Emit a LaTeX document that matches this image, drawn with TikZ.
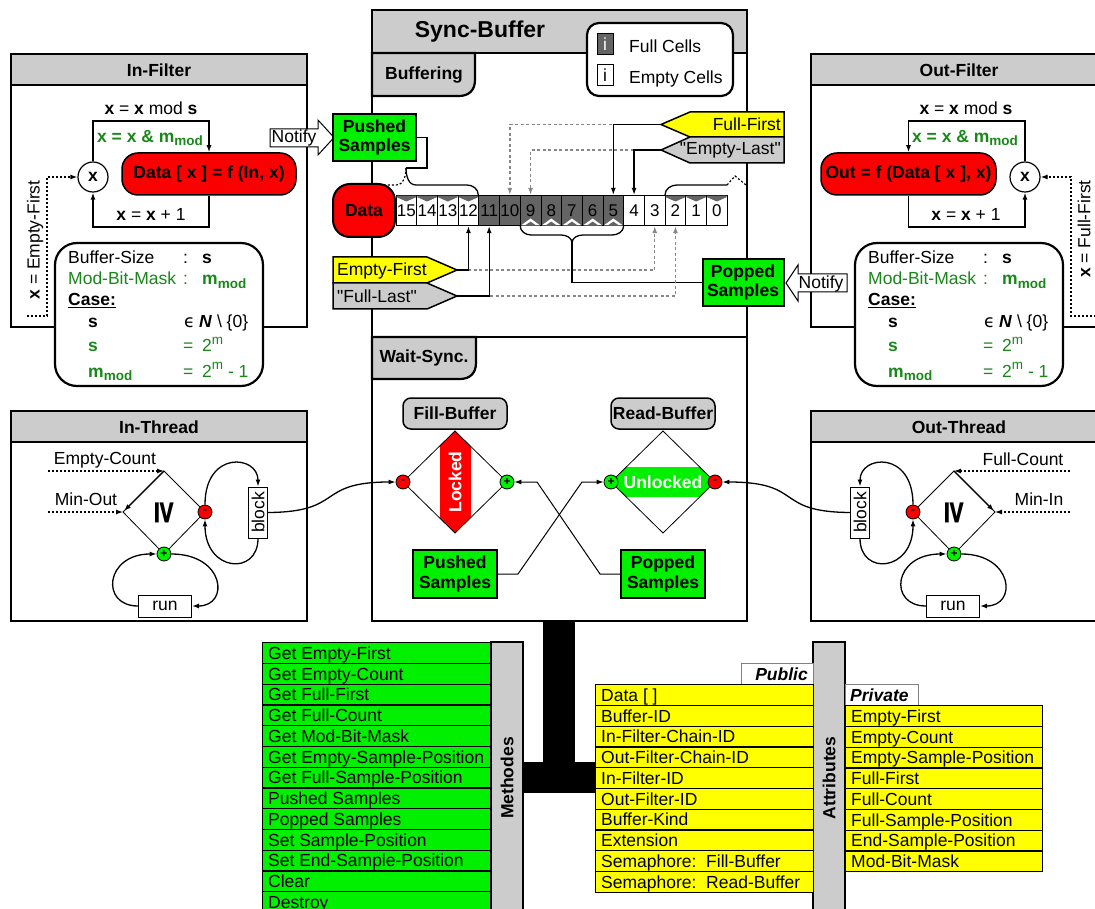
\documentclass[tikz,border=0pt]{standalone}
\usepackage{fontspec}
\setmainfont{Liberation Sans}
\newfontfamily\dejavu{DejaVu Sans}
\newfontfamily\qfont{Liberation Sans}
\usetikzlibrary{arrows.meta,calc}
\definecolor{brgreen}{RGB}{0,240,0}
\definecolor{dgreen}{RGB}{25,135,25}
\definecolor{myred}{RGB}{250,0,0}
\definecolor{myyellow}{RGB}{255,255,0}
\definecolor{mygray}{RGB}{204,204,204}
\definecolor{cellgray}{RGB}{100,100,100}
\definecolor{dashgray}{RGB}{135,135,135}
\newcommand\mysub[1]{\raisebox{-0.4ex}{\fontsize{13.5}{14}\selectfont #1}}
\newcommand\mysup[1]{\raisebox{0.8ex}{\fontsize{13.5}{14}\selectfont #1}}
\newcommand\mmod{\textbf{m\mysub{mod}}}
\newcommand\sq{{\qfont\char34}}
\newcommand\casecontent{%
  \node[draw,line width=2.2pt,fill=white,rounded corners=22pt,minimum width=208pt,minimum height=143pt] (case) at (159,314.5) {};
  \node[tx] (k1a) at (68,264) {Buffer-Size};
  \node[tx] (k1b) at (183,264) {:};
  \node[tx] (k1c) at (202,264) {\textbf{s}};
  \node[tx,text=dgreen] (k2a) at (68,285) {Mod-Bit-Mask};
  \node[tx,text=dgreen] (k2b) at (183,285) {:};
  \node[tx,text=dgreen] (k2c) at (202,285) {\mmod};
  \node[tx] (k3a) at (68,306) {\textbf{\underline{Case:}}};
  \node[tx] (k4a) at (88,327) {\textbf{s}};
  \node[tx] (k4b) at (184,327) {\dejavu ϵ};
  \node[tx] (k4c) at (199,327) {\textbf{\textit{N}} \textbackslash\ \{0\}};
  \node[tx,text=dgreen] (k5a) at (88,352) {\textbf{s}};
  \node[tx,text=dgreen] (k5b) at (183,352) {=};
  \node[tx,text=dgreen] (k5c) at (202,352) {2\mysup{m}};
  \node[tx,text=dgreen] (k6a) at (88,377) {\mmod};
  \node[tx,text=dgreen] (k6b) at (183,377) {=};
  \node[tx,text=dgreen] (k6c) at (202,377) {2\mysup{m} - 1};
}
\begin{document}
\begin{tikzpicture}[x=1pt,y=-1pt,
  font=\fontsize{17.5}{20}\selectfont,
  frm/.style={draw,line width=2.2pt},
  ln/.style={line width=1.3pt},
  thn/.style={line width=0.8pt},
  arr/.style={-{Latex[length=7pt,width=5pt]}},
  gdash/.style={draw=dashgray,line width=1.3pt,dash pattern=on 3pt off 2.5pt,-{Latex[length=7pt,width=5pt]}},
  dotl/.style={line width=1.2pt,dash pattern=on 2pt off 2pt},
  bold/.style={font=\fontsize{17.5}{20}\selectfont\bfseries},
  tx/.style={anchor=base west,inner sep=0pt},
  sgreen/.style={draw,line width=2pt,fill=brgreen,font=\fontsize{17.5}{19.5}\selectfont\bfseries,align=center,inner sep=0pt},
  pm/.style={circle,draw,line width=0.8pt,minimum size=14pt,inner sep=0pt,font=\fontsize{12}{12}\selectfont\bfseries},
  cell/.style={draw,line width=0.8pt,minimum width=20.7pt,minimum height=30.5pt,inner sep=0pt,font=\fontsize{17}{17}\selectfont},
  rowbox/.style={draw,line width=1.2pt,minimum height=20.77pt,inner sep=0pt,anchor=north west},
  rowtx/.style={anchor=base west,inner sep=0pt},
  tbox/.style={draw,line width=1pt,fill=white,inner sep=0pt},
]
\useasboundingbox (0,0) rectangle (1095,909);
\clip (0,0) rectangle (1095,909);
% ---------------- frames
\draw[frm,fill=white] (11,54) rectangle (307,327);
\draw[frm,fill=mygray] (11,54) rectangle (307,85);
\draw[frm,fill=white] (811,54) rectangle (1107,327);
\draw[frm,fill=mygray] (811,54) rectangle (1107,85);
\draw[frm,fill=white] (11,411) rectangle (307,621);
\draw[frm,fill=mygray] (11,411) rectangle (307,442);
\draw[frm,fill=white] (811,411) rectangle (1107,621);
\draw[frm,fill=mygray] (811,411) rectangle (1107,442);
\draw[frm,fill=white] (372,10) rectangle (747,621);
\draw[frm,fill=mygray] (372,10) rectangle (747,53);
\draw[frm] (372,337) -- (747,337);
\draw[frm,fill=mygray] (372,53) -- (475,53) -- (475,80) .. controls (475,90) and (469,96) .. (459,96) -- (372,96) -- cycle;
\draw[frm,fill=mygray] (372,337) -- (476,337) -- (476,363) .. controls (476,373) and (470,379) .. (460,379) -- (372,379) -- cycle;
\node[bold] (tif) at (159,70) {In-Filter};
\node[bold] (tof) at (959,70) {Out-Filter};
\node[bold] (tit) at (159,427) {In-Thread};
\node[bold] (tot) at (959,427) {Out-Thread};
\node[font=\fontsize{23}{26}\selectfont\bfseries] (tsb) at (480,32) {Sync-Buffer};
\node[bold] (tbf) at (424,75) {Buffering};
\node[bold] (tws) at (424,358) {Wait-Sync.};
% ---------------- legend
\node[draw,line width=2.2pt,rounded corners=12pt,fill=white,minimum width=146pt,minimum height=73pt] (leg) at (660,59.5) {};
\node[draw,line width=1pt,fill=cellgray,minimum width=16pt,minimum height=21pt,inner sep=0pt,text=white] (legf) at (605,44) {i};
\node[tx] (legft) at (629,52.5) {Full Cells};
\node[draw,line width=1pt,fill=white,minimum width=16pt,minimum height=21pt,inner sep=0pt] (lege) at (605,75) {i};
\node[tx] (leget) at (629,84) {Empty Cells};
% ---------------- In-Filter
\node (imod) at (151,108) {\textbf{x} = \textbf{x} mod \textbf{s}};
\node[circle,draw,line width=1.2pt,fill=white,minimum size=30pt,inner sep=0pt,bold] (ix) at (93,177) {x};
\node[draw,line width=1.5pt,fill=myred,rounded corners=16pt,minimum width=174pt,minimum height=42pt,inner xsep=2pt,bold] (idata) at (209,174) {Data [ x ] = f (In, x)};
\draw[ln,arr] (ix.north) -- (93,121) -| (idata.north);
\node[text=dgreen] (iand) at (150,138) {\textbf{x = x \& m\mysub{mod}}};
\draw[ln,arr] (idata.south) -- (209,227) -| (ix.south);
\node (iinc) at (151,214) {\textbf{x} = \textbf{x} + 1};
\coordinate (iefs) at (27,316);
\draw[dotl,arr] (iefs) -- (47,316) -- (47,177) -- (ix.west);
\node[rotate=90] (iefl) at (35,240) {\textbf{x} = Empty-First};
\casecontent
% ---------------- Out-Filter
\node (omod) at (966,108) {\textbf{x} = \textbf{x} mod \textbf{s}};
\node[circle,draw,line width=1.2pt,fill=white,minimum size=30pt,inner sep=0pt,bold] (ox) at (1025,177) {x};
\node[draw,line width=1.5pt,fill=myred,rounded corners=16pt,minimum width=175pt,minimum height=42pt,inner xsep=2pt,bold] (odata) at (908.5,174) {Out = f (Data [ x ], x)};
\draw[ln,arr] (ox.north) -- (1025,121) -| (odata.north);
\node[text=dgreen] (oand) at (965,138) {\textbf{x = x \& m\mysub{mod}}};
\draw[ln,arr] (odata.south) -- (908.5,227) -| (ox.south);
\node (oinc) at (966,214) {\textbf{x} = \textbf{x} + 1};
\coordinate (offs) at (1100,316);
\draw[dotl,arr] (offs) -- (1071,316) -- (1071,177) -- (ox.east);
\node[rotate=90] (offl) at (1084,229) {\textbf{x} = Full-First};
\begin{scope}[xshift=800pt,name prefix=r]
\casecontent
\end{scope}
% ---------------- Notify arrows
\draw[line width=1pt,fill=white] (270,129) -- (318,129) -- (318,120) -- (334,137.5) -- (318,155) -- (318,147) -- (270,147) -- cycle;
\node[inner sep=0pt] (nfl) at (294,138) {Notify};
\draw[line width=1pt,fill=white] (847,274) -- (798,274) -- (798,265) -- (786,283) -- (798,301) -- (798,292) -- (847,292) -- cycle;
\node[inner sep=0pt] (nfr) at (821,283.5) {Notify};
% ---------------- Buffering
\node[sgreen,minimum width=83pt,minimum height=47pt] (pst) at (374.5,137.5) {Pushed\\Samples};
\node[sgreen,minimum width=81pt,minimum height=47pt] (ppt) at (743,282.5) {Popped\\Samples};
\node[draw,line width=2pt,fill=myred,rounded corners=17pt,minimum width=62pt,minimum height=53pt,bold] (dat) at (364,210.5) {Data};
\foreach \i in {0,...,15}{
  \pgfmathtruncatemacro\n{15-\i}
  \pgfmathsetmacro\cx{406.35+20.7*\i}
  \ifnum\n>4 \ifnum\n<12 \def\cf{cellgray}\else\def\cf{white}\fi\else\def\cf{white}\fi
  \node[cell,fill=\cf] (c\n) at (\cx,210.5) {\n};
}
\foreach \n in {15,14,13,12,2,1,0}{
  \pgfmathsetmacro\xa{396+20.7*(15-\n)}
  \fill[cellgray] (\xa+0.6,195.6) -- (\xa+20.1,195.6) -- (\xa+20.1,197.2) -- (\xa+10.35,201.5) -- (\xa+0.6,197.2) -- cycle;
}
\foreach \n in {9,...,5}{
  \pgfmathsetmacro\xa{396+20.7*(15-\n)}
  \fill[white] (\xa+1,225.3) -- (\xa+10.35,218.5) -- (\xa+19.7,225.3) -- cycle;
  \fill[cellgray] (\xa+5,225.3) -- (\xa+10.35,221.6) -- (\xa+15.7,225.3) -- cycle;
}
% pushed brace
\draw[ln] (pst.east) -- (427,137.5) |- (406,168);
\draw[ln] (406,168) to[out=-90,in=180] (416,185) -- (467,185) to[out=0,in=90] (478.3,195);
\draw[dotl] (406,168) to[out=-90,in=0] (396,185) -- (383,185);
\draw[ln] (665,195) to[out=90,in=180] (677,185) -- (727,185);
\draw[dotl] (727,185) -- (735,176) -- (746,185);
% popped brace
\draw[ln] (520.2,225.7) to[out=-90,in=180] (531,235) -- (561,235) to[out=0,in=90] (572,243);
\draw[ln] (572,243) to[out=90,in=180] (583,235) -- (612,235) to[out=0,in=-90] (623.7,225.7);
\draw[ln] (572,243) |- (ppt.west);
% tags
\draw[line width=1.5pt,fill=myyellow] (661,124.5) -- (690,112) -- (784,112) -- (784,137) -- (690,137) -- cycle;
\node[anchor=east,inner sep=0pt] (fft) at (781,124.5) {Full-First};
\coordinate (ffTip) at (661,124.5);
\draw[line width=1.5pt,fill=mygray] (661,150) -- (690,137) -- (784,137) -- (784,163) -- (690,163) -- cycle;
\node[anchor=east,inner sep=0pt] (elt) at (781,150.5) {\sq Empty-Last\sq};
\coordinate (elTip) at (661,150);
\draw[line width=1.5pt,fill=myyellow] (333,257) -- (427,257) -- (457,270) -- (427,283) -- (333,283) -- cycle;
\node[anchor=west,inner sep=0pt] (eft) at (337,270.5) {Empty-First};
\coordinate (efTip) at (457,270);
\draw[line width=1.5pt,fill=mygray] (333,283) -- (427,283) -- (457,296) -- (427,309) -- (333,309) -- cycle;
\node[anchor=west,inner sep=0pt] (flt) at (337,296.5) {\sq Full-Last\sq};
\coordinate (flTip) at (457,296);
\draw[gdash] (ffTip) -| (c10.north);
\draw[gdash] (elTip) -| (c9.north);
\draw[gdash] (efTip) -| (c3.south);
\draw[gdash] (flTip) -| (c2.south);
\draw[ln,arr] (ffTip) -| (c5.north);
\draw[ln,arr] (elTip) -| (c4.north);
\draw[ln,arr] (efTip) -| (c12.south);
\draw[ln,arr] (flTip) -| (c11.south);
% ---------------- Wait-Sync
\node[draw,line width=1.5pt,rounded corners=8pt,fill=mygray,minimum width=104pt,minimum height=31pt,inner sep=0pt,bold] (fbl) at (455,413.5) {Fill-Buffer};
\node[draw,line width=1.5pt,rounded corners=8pt,fill=mygray,minimum width=104pt,minimum height=31pt,inner sep=0pt,bold] (rbl) at (663,413.5) {Read-Buffer};
\begin{scope}
\clip (455,431) -- (507,482) -- (455,533) -- (403,482) -- cycle;
\fill[myred] (439.5,420) rectangle (470.5,545);
\end{scope}
\draw[thn] (455,431) -- (507,482) -- (455,533) -- (403,482) -- cycle;
\node[rotate=90,text=white,bold] (lock) at (455,482) {Locked};
\begin{scope}
\clip (663,431) -- (715,482) -- (663,533) -- (611,482) -- cycle;
\fill[brgreen] (600,467) rectangle (726,497);
\end{scope}
\draw[thn] (663,431) -- (715,482) -- (663,533) -- (611,482) -- cycle;
\node[text=white,bold] (unl) at (663,482) {Unlocked};
\node[pm,fill=myred] (fbm) at (403,482) {-};
\node[pm,fill=brgreen] (fbp) at (507,482) {+};
\node[pm,fill=brgreen] (rbp) at (611,482) {+};
\node[pm,fill=myred] (rbm) at (715,482) {-};
\node[sgreen,minimum width=84pt,minimum height=48pt] (psb) at (455,574) {Pushed\\Samples};
\node[sgreen,minimum width=84pt,minimum height=48pt] (ppb) at (663,574) {Popped\\Samples};
\draw[line width=1pt,arr] (psb.east) -- (518,574) -- (582,482) -- (rbp.west);
\draw[line width=1pt,arr] (ppb.west) -- (600,574) -- (537,482) -- (fbp.east);
% ---------------- In-Thread
\draw[thn] (164,471) -- (205,512) -- (164,554) -- (123,512) -- cycle;
\node[rotate=-90,inner sep=0pt,font=\dejavu\bfseries\fontsize{32}{32}\selectfont] (ige) at (165,513) {≥};
\node (iec) at (105,460) {Empty-Count};
\node (imo) at (86,499) {Min-Out};
\coordinate (iecs) at (48,471);
\coordinate (imos) at (48,512);
\draw[dotl,arr] (iecs) -- (164,471);
\draw[dotl,arr] (imos) -- (123,512);
\draw[line width=1.3pt,arr] (164,471) -- (124,511);
\node[pm,fill=myred] (irm) at (205,512) {-};
\node[pm,fill=brgreen] (igp) at (164,554) {+};
\node[tbox,minimum width=19pt,minimum height=51pt] (iblk) at (258,512.5) {\rotatebox{90}{block}};
\node[tbox,minimum width=53pt,minimum height=22pt] (irun) at (165,606) {run};
\draw[ln,arr] (irm.north) .. controls (205,450) and (258,455) .. (iblk.north);
\draw[ln,arr] (iblk.south) .. controls (258,576) and (205,572) .. (irm.south);
\draw[ln,arr] (irun.west) .. controls (100,606) and (105,554) .. (igp.west);
\draw[ln,arr] (igp.east) .. controls (225,554) and (230,606) .. (irun.east);
\draw[ln,arr] (iblk.east) .. controls (345,512) and (315,482) .. (fbm.west);
% ---------------- Out-Thread
\draw[thn] (954,471) -- (995,512) -- (954,554) -- (913,512) -- cycle;
\node[rotate=-90,inner sep=0pt,font=\dejavu\bfseries\fontsize{32}{32}\selectfont] (oge) at (955,513) {≥};
\node (ofc) at (1023,459) {Full-Count};
\node (omi) at (1039,499) {Min-In};
\coordinate (ofcs) at (1070,471);
\coordinate (omis) at (1070,512);
\draw[dotl,arr] (ofcs) -- (954,471);
\draw[dotl,arr] (omis) -- (995,512);
\draw[line width=1.3pt,arr] (954,471) -- (994,511);
\node[pm,fill=myred] (orm) at (913,512) {-};
\node[pm,fill=brgreen] (ogp) at (954,554) {+};
\node[tbox,minimum width=19pt,minimum height=51pt] (oblk) at (860,512.5) {\rotatebox{90}{block}};
\node[tbox,minimum width=53pt,minimum height=22pt] (orun) at (953,606) {run};
\draw[ln,arr] (orm.north) .. controls (913,450) and (860,455) .. (oblk.north);
\draw[ln,arr] (oblk.south) .. controls (860,576) and (913,572) .. (orm.south);
\draw[ln,arr] (orun.west) .. controls (888,606) and (893,554) .. (ogp.west);
\draw[ln,arr] (ogp.east) .. controls (1013,554) and (1018,606) .. (orun.east);
\draw[ln,arr] (oblk.west) .. controls (773,512) and (805,482) .. (rbm.east);
% ---------------- bottom: connector T
\fill (543,621) rectangle (575,762);
\fill (523,762) rectangle (595,793);
% Methodes
\foreach \txt [count=\i from 0] in {Get Empty-First,Get Empty-Count,Get Full-First,Get Full-Count,Get Mod-Bit-Mask,Get Empty-Sample-Position,Get Full-Sample-Position,Pushed Samples,Popped Samples,Set Sample-Position,Set End-Sample-Position,Clear,Destroy}{
  \node[rowbox,fill=brgreen,minimum width=229pt] (m\i) at (262,{642+20.77*\i}) {};
  \node[rowtx] (mt\i) at ([xshift=6pt,yshift=-6.3pt]m\i.west) {\txt};
}
\draw[frm,fill=mygray] (491,642) rectangle (523,930);
\node[rotate=90,bold] (meth) at (507,778) {Methodes};
% Attributes
\draw[frm,fill=mygray] (813,642) rectangle (845,930);
\node[rotate=90,bold] (attr) at (829,778) {Attributes};
\node[draw=gray,line width=1pt,fill=white,minimum width=72pt,minimum height=21pt,inner sep=0pt] (pubtab) at (777,673.5) {};
\node[anchor=base east,inner sep=0pt,font=\fontsize{17.5}{20}\selectfont\bfseries\itshape] (pub) at (808,680) {Public};
\node[draw=gray,line width=1pt,fill=white,minimum width=73pt,minimum height=21pt,inner sep=0pt] (privtab) at (881.5,694.5) {};
\node[anchor=base west,inner sep=0pt,font=\fontsize{17.5}{20}\selectfont\bfseries\itshape] (priv) at (850,701) {Private};
\foreach \txt [count=\i from 0] in {Data [ ],Buffer-ID,In-Filter-Chain-ID,Out-Filter-Chain-ID,In-Filter-ID,Out-Filter-ID,Buffer-Kind,Extension,Semaphore:\ \ Fill-Buffer,Semaphore:\ \ Read-Buffer}{
  \node[rowbox,fill=myyellow,minimum width=218pt] (pa\i) at (595,{684+20.77*\i}) {};
  \node[rowtx] (pat\i) at ([xshift=6pt,yshift=-6.3pt]pa\i.west) {\txt};
}
\foreach \txt [count=\i from 0] in {Empty-First,Empty-Count,Empty-Sample-Position,Full-First,Full-Count,Full-Sample-Position,End-Sample-Position,Mod-Bit-Mask}{
  \node[rowbox,fill=myyellow,minimum width=197pt] (pr\i) at (845,{705+20.77*\i}) {};
  \node[rowtx] (prt\i) at ([xshift=6pt,yshift=-6.3pt]pr\i.west) {\txt};
}
\end{tikzpicture}
\end{document}
